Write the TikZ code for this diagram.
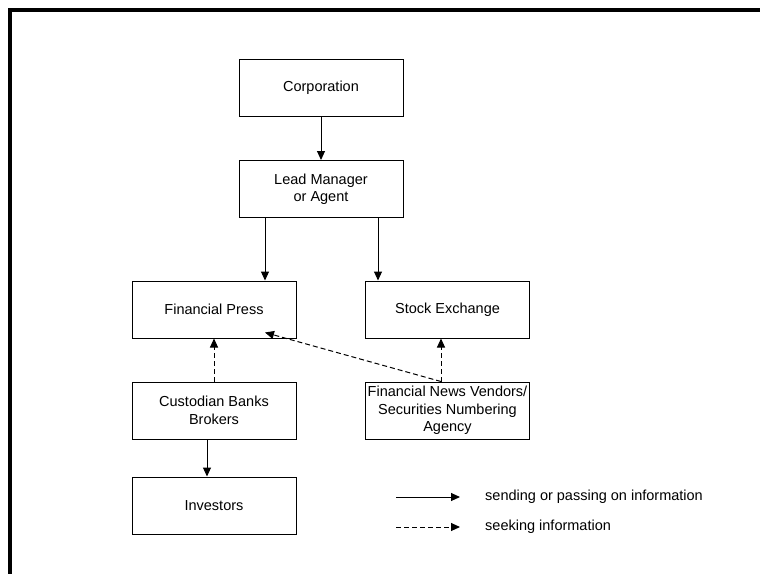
\documentclass[tikz,border=0pt]{standalone}
\usepackage{fontspec}
\setmainfont{Liberation Sans}
\usetikzlibrary{arrows.meta}
\usetikzlibrary{positioning}

\begin{document}
\begin{tikzpicture}[x=1pt, y=-1pt,
    box/.style={draw, line width=1pt, minimum width=164pt, minimum height=57pt, inner sep=0pt, align=center, font=\fontsize{14.5}{17.5}\selectfont},
    send/.style={-{Triangle[length=9pt,width=8pt]}, line width=1pt},
    seek/.style={-{Triangle[length=9pt,width=8pt]}, line width=1pt, dash pattern=on 5pt off 3pt},
    legtext/.style={anchor=west, inner sep=0pt, font=\fontsize{14.5}{17.5}\selectfont}]
        \useasboundingbox (0,0) rectangle (760,573);
        \draw[line width=3.5pt] (10,580) -- (10,10) -- (770,10);

        \node[box] (corp) at (321, 87.5) {Corporation};

        \node[box] (lead) at (321, 189) {Lead Manager\\or Agent};

        \node[box] (press) at (214, 309.5) {Financial Press};
        \node[box] (exch) at (447.5, 309.5) {Stock Exchange};

        \node[box] (cust) at (214, 410.5) {Custodian Banks\\Brokers};
        \node[box] (news) at (447.5, 410.5) {Financial News Vendors/\\Securities Numbering\\Agency};

        \node[box] (inv) at (214, 505.5) {Investors};

        \draw[send] (corp) -- (lead);
        \draw[send] ([xshift=-56pt]lead.south) -- ([xshift=-56pt]lead.south |- press.north);
        \draw[send] ([xshift=57pt]lead.south) -- ([xshift=57pt]lead.south |- exch.north);
        \draw[send] ([xshift=-7pt]cust.south) -- ([xshift=-7pt]cust.south |- inv.north);

        \draw[seek] (cust) -- (press);
        \draw[seek] ([xshift=-6.5pt]news.north) -- ([xshift=-6.5pt]news.north |- exch.south);
        \draw[seek] ([xshift=-6.5pt]news.north) -- ([xshift=51pt, yshift=6pt]press.south);

        % legend
        \coordinate (sendA) at (396, 497);
        \coordinate (sendB) at (460, 497);
        \coordinate (seekA) at (396, 527);
        \coordinate (seekB) at (460, 527);
        \draw[send] (sendA) -- (sendB);
        \draw[seek] (seekA) -- (seekB);
        \node[legtext] (sendlbl) at (485, 497) {sending or passing on information};
        \node[legtext] (seeklbl) at (485, 527) {seeking information};
      \end{tikzpicture}
\end{document}
